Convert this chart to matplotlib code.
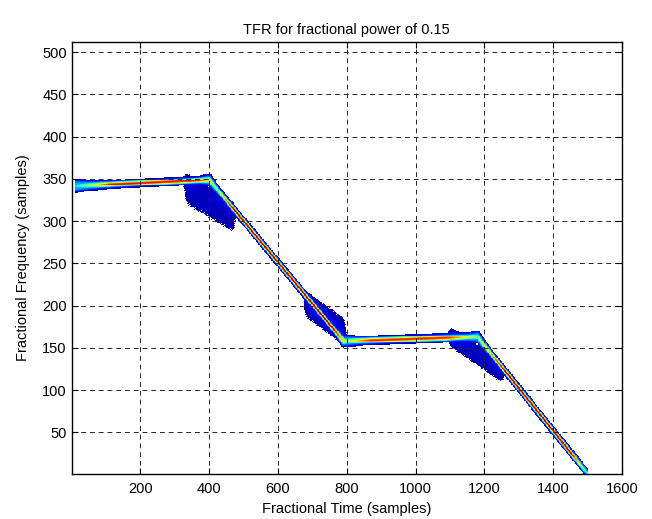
import matplotlib

matplotlib.use("Agg")
import matplotlib.pyplot as plt
import numpy as np

# ridge of the TFR: (time, frequency) knots of the instantaneous frequency
ridge_t = [10, 400, 790, 1180, 1500]
ridge_f = [342, 349, 158, 163, 1]

# ridge strength along time
amp_t = [10, 60, 110, 370, 420, 470, 760, 800, 870, 1090, 1180, 1260, 1450, 1500]
amp_v = [0.35, 0.6, 0.9, 0.9, 0.5, 0.97, 0.97, 0.55, 0.88, 0.88, 0.5, 0.97, 0.97, 0.4]

# ridge spread (in frequency samples) along time
width_t = [10, 50, 120, 370, 400, 430, 760, 790, 850, 1150, 1180, 1220, 1500]
width_v = [4.5, 3.5, 2.8, 2.8, 4.0, 2.4, 2.4, 4.0, 3.0, 3.0, 4.0, 2.4, 2.4]

# smeared cross-term patches: time range, centre line (start f, end f), half width
smear_t0 = [320, 668, 1090]
smear_t1 = [482, 805, 1262]
smear_f0 = [341, 204, 166]
smear_f1 = [301, 167, 117]
smear_h = [18, 16, 12]

x_ticks = [200, 400, 600, 800, 1000, 1200, 1400, 1600]
y_ticks = [50, 100, 150, 200, 250, 300, 350, 400, 450, 500]


def build_tfr(t: np.ndarray, f: np.ndarray) -> np.ndarray:
    """Return a masked time-frequency map built from the ridge and smear patches."""
    T, F = np.meshgrid(t, f)
    r = np.interp(T, ridge_t, ridge_f)
    slope = np.abs(np.gradient(np.interp(t, ridge_t, ridge_f), t))
    w = np.interp(T, width_t, width_v) + 2.0 * slope[None, :]
    amp = np.interp(T, amp_t, amp_v)
    inside = (T >= ridge_t[0]) & (T <= ridge_t[-1])

    d = (F - r) / w
    core = amp * np.exp(-(d**2))
    halo = 0.3 * np.exp(-((d / 1.5) ** 4))
    z = np.where(inside, np.maximum(core, halo), 0.0)

    # speckle texture for the cross terms
    tex = 0.75 + 0.25 * np.cos(1.9 * T) * np.cos(2.7 * F + 0.6 * T)
    for t0, t1, f0, f1, h in zip(smear_t0, smear_t1, smear_f0, smear_f1, smear_h):
        c = f0 + (f1 - f0) * (T - t0) / (t1 - t0)
        edge = np.clip(np.minimum(T - t0, t1 - T) / 20.0, 0, 1)
        near = 1.0 + 1.5 * np.exp(-(((F - r) / (3 * w)) ** 2))
        s = 0.07 * np.exp(-(((F - c) / h) ** 4)) * edge * tex * near
        z = np.maximum(z, s)

    return np.ma.masked_less(z, 0.025)


def main() -> None:
    t = np.arange(1, 1601, 2)
    f = np.arange(1, 513)
    z = build_tfr(t, f)

    plt.rcParams["font.family"] = ["Liberation Sans", "DejaVu Sans"]
    fig = plt.figure(figsize=(6.52, 5.19), dpi=100)
    ax = fig.add_axes([0.110, 0.087, 0.844, 0.832])

    ax.imshow(
        z,
        extent=(t[0], t[-1], f[0], f[-1]),
        origin="lower",
        aspect="auto",
        cmap="jet",
        vmin=0,
        vmax=1,
        interpolation="nearest",
    )

    ax.set_xlim(1, 1600)
    ax.set_ylim(1, 512)
    ax.set_xticks(x_ticks)
    ax.set_yticks(y_ticks)
    ax.tick_params(direction="in", top=True, right=True, length=4, labelsize=10.5)
    ax.tick_params(axis="x", pad=6)
    ax.grid(True, color="0.15", linestyle=(0, (5, 4)), linewidth=0.7)
    for s in ax.spines.values():
        s.set_linewidth(1.0)

    ax.set_title("TFR for fractional power of 0.15", fontsize=10.5, pad=6)
    ax.set_xlabel("Fractional Time (samples)", fontsize=10.5, labelpad=4)
    ax.set_ylabel("Fractional Frequency (samples)", fontsize=10.5, labelpad=9)

    fig.savefig("out.png", dpi=100)


if __name__ == "__main__":
    main()
